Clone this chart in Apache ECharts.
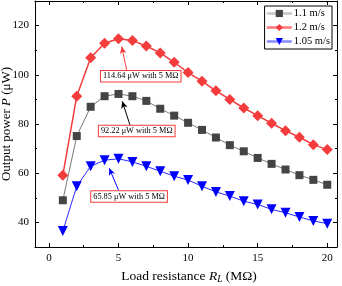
<!DOCTYPE html>
<html><head><meta charset="utf-8">
<script src="https://cdn.jsdelivr.net/npm/echarts@6/dist/echarts.min.js"></script>
<style>html,body{margin:0;padding:0;background:#fff}#c{width:342px;height:286px}</style>
</head><body><div id="c"></div>
<script>
var resistance = [1,2,3,4,5,6,7,8,9,10,11,12,13,14,15,16,17,18,19,20];
var power11 = [49.0,75.1,87.0,91.3,92.22,91.3,89.4,86.2,83.4,80.5,77.6,74.5,71.4,68.9,66.2,63.8,61.5,59.2,57.3,55.3];
var power12 = [59.2,91.3,106.9,112.8,114.64,113.9,111.7,108.9,105.1,100.9,97.4,93.5,90.0,86.5,83.4,80.3,77.3,74.6,71.6,69.6];
var power105 = [36.5,54.7,62.8,65.3,65.85,64.6,62.8,60.8,58.8,57.2,54.7,52.4,50.7,48.6,47.3,45.3,43.9,42.2,40.6,39.5];
var seriesNames = ['1.1 m/s','1.2 m/s','1.05 m/s'];
var xTicks = [0,5,10,15,20];
var xMinor = [2.5,7.5,12.5,17.5];
var yTicks = [40,60,80,100,120];
var yMinor = [50,70,90,110];
var notes = ['114.64 μW with 5 MΩ','92.22 μW with 5 MΩ','65.85 μW with 5 MΩ'];
// annotation anchors in data space: arrow start, arrow tip, box centre
var arrows = [
  [[5.59,101.8],[5.23,111.5]],
  [[5.83,79.5],[5.27,89.2]],
  [[4.99,53.2],[4.34,62.0]]
];
var boxCentres = [[6.6,99.4],[6.31,77.2],[5.76,50.5]];

var F = 'Liberation Serif, Times New Roman, serif';
var chart = echarts.init(document.getElementById('c'));
function pairs(ys){return resistance.map(function(x,i){return [x,ys[i]];});}
function xAx(pos, vals, len, labels, line){
  return {type:'value', min:-1, max:20.7, position:pos, gridIndex:0,
    axisLine:{show:line, onZero:false, lineStyle:{color:'#000',width:1}},
    axisTick:{show:true, inside:true, length:len, customValues:vals, lineStyle:{color:'#000',width:1}},
    axisLabel:{show:labels, customValues:vals, color:'#000', fontFamily:F, fontSize:11, margin:6},
    splitLine:{show:false}};
}
function yAx(pos, vals, len, labels, line){
  return {type:'value', min:30, max:130, position:pos, gridIndex:0,
    axisLine:{show:line, onZero:false, lineStyle:{color:'#000',width:1}},
    axisTick:{show:true, inside:true, length:len, customValues:vals, lineStyle:{color:'#000',width:1}},
    axisLabel:{show:labels, customValues:vals, color:'#000', fontFamily:F, fontSize:11, margin:6},
    splitLine:{show:false}};
}
var xa = [xAx('bottom', xTicks, 4, true, true), xAx('bottom', xMinor, 2, false, false),
          xAx('top', xTicks, 4, false, true), xAx('top', xMinor, 2, false, false)];
xa[0].name = '{n|Load resistance }{i|R}{s|L}{n| (MΩ)}';
xa[0].nameLocation = 'middle';
xa[0].nameGap = 21;
xa[0].nameMoveOverlap = false;
xa[0].nameTextStyle = {verticalAlign:'top',padding:[0,0,0,6],rich:{n:{fontFamily:F,fontSize:13.5,color:'#000'},i:{fontFamily:F,fontSize:13.5,fontStyle:'italic',color:'#000'},s:{fontFamily:F,fontSize:9.5,fontStyle:'italic',color:'#000',verticalAlign:'bottom',padding:[6,0,0,0]}}};
var ya = [yAx('left', yTicks, 4, true, true), yAx('left', yMinor, 2, false, false),
          yAx('right', yTicks, 4, false, true), yAx('right', yMinor, 2, false, false)];
ya[0].name = '{n|Output power }{i|P}{n| (μW)}';
ya[0].nameLocation = 'middle';
ya[0].nameGap = 21.5;
ya[0].nameMoveOverlap = false;
ya[0].nameTextStyle = {rich:{n:{fontFamily:F,fontSize:13,color:'#000'},i:{fontFamily:F,fontSize:13,fontStyle:'italic',color:'#000'}}};

function ml(i,color){
  return {silent:true, symbol:['none','arrow'], symbolSize:[5,7], label:{show:false},
    lineStyle:{color:color,width:1,type:'solid'}, animation:false,
    data:[[{coord:arrows[i][0]},{coord:arrows[i][1]}]]};
}
chart.setOption({
  animation:false,
  grid:{left:35,right:5,top:1,bottom:39,containLabel:false,outerBoundsMode:'none'},
  legend:{right:10,top:6,orient:'vertical',itemWidth:25,itemHeight:9,itemGap:3,
    padding:[2,2,2,1],borderColor:'#000',borderWidth:1,
    textStyle:{fontFamily:F,fontSize:10.5,color:'#000',padding:[0,0,0,-3]},
    data:[{name:seriesNames[0],lineStyle:{color:'#c6c6c6',width:2.5}},
          {name:seriesNames[1],lineStyle:{color:'#ff7777',width:2.5}},
          {name:seriesNames[2],lineStyle:{color:'#8888ff',width:2.5}}]},
  xAxis:xa, yAxis:ya,
  series:[
    {name:seriesNames[0],type:'line',data:pairs(power11),symbol:'rect',symbolSize:8,
      itemStyle:{color:'#444'},lineStyle:{color:'#555',width:0.8},markLine:ml(1,'#000')},
    {name:seriesNames[1],type:'line',data:pairs(power12),symbol:'diamond',symbolSize:11,
      itemStyle:{color:'#f43c3c'},lineStyle:{color:'#f43c3c',width:1.5},markLine:ml(0,'#f43c3c')},
    {name:seriesNames[2],type:'line',data:pairs(power105),symbol:'triangle',symbolRotate:180,symbolSize:10,
      itemStyle:{color:'#0000ff'},lineStyle:{color:'#2a2aff',width:1},markLine:ml(2,'#0000ff')}
  ]
});
var g = boxCentres.map(function(c,i){
  var p = chart.convertToPixel({xAxisIndex:0,yAxisIndex:0}, c);
  return {type:'text', x:p[0], y:p[1], z:100,
    style:{text:notes[i], fontFamily:F, fontSize:8.3, fill:'#000', align:'center', verticalAlign:'middle',
      backgroundColor:'#fff', borderColor:'#f43c3c', borderWidth:1, padding:[1.5,2,1,2]}};
});
chart.setOption({graphic:g});
</script></body></html>
